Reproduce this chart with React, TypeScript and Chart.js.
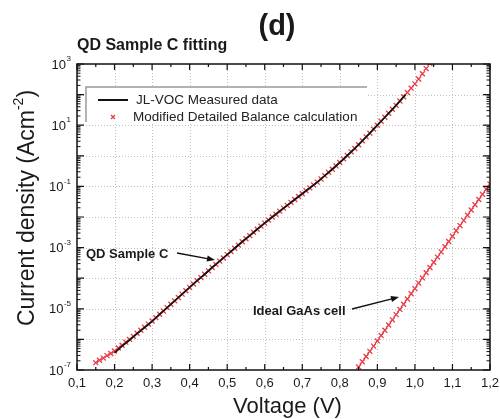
import React, { useEffect, useRef } from "react";
import { Chart, registerables } from "chart.js";

Chart.register(...registerables);

// ---- Data ----
// Modified Detailed Balance calculation for QD Sample C (red crosses): voltage (V) and log10 J (A/cm^2)
const fitVoltage = [
  0.15, 0.16, 0.17, 0.18, 0.19, 0.2, 0.21, 0.22, 0.23, 0.24, 0.25, 0.26, 0.27, 0.28, 0.29,
  0.3, 0.31, 0.32, 0.33, 0.34, 0.35, 0.36, 0.37, 0.38, 0.39, 0.4, 0.41, 0.42, 0.43, 0.44,
  0.45, 0.46, 0.47, 0.48, 0.49, 0.5, 0.51, 0.52, 0.53, 0.54, 0.55, 0.56, 0.57, 0.58, 0.59,
  0.6, 0.61, 0.62, 0.63, 0.64, 0.65, 0.66, 0.67, 0.68, 0.69, 0.7, 0.71, 0.72, 0.73, 0.74,
  0.75, 0.76, 0.77, 0.78, 0.79, 0.8, 0.81, 0.82, 0.83, 0.84, 0.85, 0.86, 0.87, 0.88, 0.89,
  0.9, 0.91, 0.92, 0.93, 0.94, 0.95, 0.96, 0.97, 0.98, 0.99, 1.0, 1.01, 1.02, 1.03, 1.04,
];
const fitLogJ = [
  -6.76, -6.68, -6.61, -6.53, -6.46, -6.38, -6.28, -6.19, -6.09, -6.0, -5.9, -5.8, -5.7, -5.6, -5.5,
  -5.4, -5.29, -5.18, -5.07, -4.96, -4.85, -4.74, -4.63, -4.52, -4.41, -4.3, -4.19, -4.08, -3.98, -3.87,
  -3.76, -3.65, -3.55, -3.44, -3.34, -3.23, -3.13, -3.02, -2.92, -2.81, -2.71, -2.61, -2.5, -2.4, -2.3,
  -2.2, -2.1, -2.0, -1.91, -1.81, -1.71, -1.62, -1.52, -1.43, -1.33, -1.24, -1.14, -1.05, -0.95, -0.86,
  -0.76, -0.65, -0.54, -0.44, -0.33, -0.22, -0.1, 0.01, 0.13, 0.24, 0.36, 0.49, 0.62, 0.74, 0.87,
  1.0, 1.13, 1.26, 1.39, 1.52, 1.65, 1.79, 1.93, 2.07, 2.21, 2.35, 2.51, 2.68, 2.85, 3.02,
];

// JL-VOC measured data (black line)
const measuredVoltage = [
  0.2, 0.22, 0.24, 0.26, 0.28, 0.3, 0.32, 0.34, 0.36, 0.38, 0.4, 0.42, 0.44, 0.46, 0.48,
  0.5, 0.52, 0.54, 0.56, 0.58, 0.6, 0.62, 0.64, 0.66, 0.68, 0.7, 0.72, 0.74, 0.76, 0.78,
  0.8, 0.82, 0.84, 0.86, 0.88, 0.9, 0.92, 0.94, 0.96, 0.975,
];
const measuredLogJ = [
  -6.44, -6.22, -6.02, -5.81, -5.61, -5.41, -5.18, -4.96, -4.74, -4.52, -4.3, -4.08, -3.87, -3.65, -3.44,
  -3.23, -3.02, -2.81, -2.61, -2.4, -2.2, -2.0, -1.81, -1.62, -1.43, -1.24, -1.05, -0.86, -0.65, -0.44,
  -0.22, 0.01, 0.24, 0.49, 0.74, 1.0, 1.26, 1.52, 1.79, 2.0,
];

// Ideal GaAs cell (red crosses)
const idealVoltage = [
  0.85, 0.86, 0.87, 0.88, 0.89, 0.9, 0.91, 0.92, 0.93, 0.94, 0.95, 0.96, 0.97, 0.98, 0.99, 1.0, 1.01, 1.02,
  1.03, 1.04, 1.05, 1.06, 1.07, 1.08, 1.09, 1.1, 1.11, 1.12, 1.13, 1.14, 1.15, 1.16, 1.17, 1.18, 1.19, 1.2,
];
const idealLogJ = [
  -6.9, -6.73, -6.56, -6.39, -6.22, -6.05, -5.87, -5.7, -5.53, -5.36, -5.19, -5.02, -4.85, -4.68, -4.51, -4.34, -4.16, -3.99,
  -3.82, -3.65, -3.48, -3.31, -3.14, -2.97, -2.8, -2.63, -2.45, -2.28, -2.11, -1.94, -1.77, -1.6, -1.43, -1.26, -1.09, -0.92,
];

// Axis ticks
const xTickValues = [0.1, 0.2, 0.3, 0.4, 0.5, 0.6, 0.7, 0.8, 0.9, 1.0, 1.1, 1.2];
const xTickLabels = ["0,1", "0,2", "0,3", "0,4", "0,5", "0,6", "0,7", "0,8", "0,9", "1,0", "1,1", "1,2"];
const yLabelExponents = ["3", "1", "-1", "-3", "-5", "-7"];
const yDecades = [-7, -6, -5, -4, -3, -2, -1, 0, 1, 2, 3];

const seriesNames = ["JL-VOC Measured data", "Modified Detailed Balance calculation"];
const titleText = "(d)";
const subtitleText = "QD Sample C fitting";
const xTitle = "Voltage (V)";
const yTitleMain = "Current density (Acm";
const yTitleSup = "-2";
const yTitleEnd = ")";
const annotationQD = "QD Sample C";
const annotationIdeal = "Ideal GaAs cell";

const FONT = '"Liberation Sans", Arial, Helvetica, sans-serif';
const RED = "#ea3a44";
const TEXT = "#1a1a1a";

function toPoints(xs: number[], logs: number[]) {
  return xs.map((v, i) => ({ x: v, y: Math.pow(10, logs[i]) }));
}

function arrow(ctx: CanvasRenderingContext2D, x1: number, y1: number, x2: number, y2: number) {
  const ang = Math.atan2(y2 - y1, x2 - x1);
  const hl = 8;
  const hw = 3;
  ctx.beginPath();
  ctx.moveTo(x1, y1);
  ctx.lineTo(x2 - Math.cos(ang) * hl * 0.8, y2 - Math.sin(ang) * hl * 0.8);
  ctx.stroke();
  ctx.beginPath();
  ctx.moveTo(x2, y2);
  ctx.lineTo(x2 - Math.cos(ang) * hl - Math.sin(ang) * hw, y2 - Math.sin(ang) * hl + Math.cos(ang) * hw);
  ctx.lineTo(x2 - Math.cos(ang) * hl + Math.sin(ang) * hw, y2 - Math.sin(ang) * hl - Math.cos(ang) * hw);
  ctx.closePath();
  ctx.fill();
}

const decorPlugin = {
  id: "decor",
  beforeDatasetsDraw(chart: any) {
    const { ctx, chartArea: a, scales } = chart;
    const x = scales.x;
    const y = scales.y;
    ctx.save();
    ctx.strokeStyle = "#c2c2c2";
    ctx.lineWidth = 1;
    ctx.setLineDash([1, 2]);
    for (const v of xTickValues.slice(1, -1)) {
      const px = Math.round(x.getPixelForValue(v)) + 0.5;
      ctx.beginPath();
      ctx.moveTo(px, a.top);
      ctx.lineTo(px, a.bottom);
      ctx.stroke();
    }
    for (const d of yDecades.slice(1, -1)) {
      const py = Math.round(y.getPixelForValue(Math.pow(10, d))) + 0.5;
      ctx.beginPath();
      ctx.moveTo(a.left, py);
      ctx.lineTo(a.right, py);
      ctx.stroke();
    }
    ctx.restore();
  },
  afterDatasetsDraw(chart: any) {
    const { ctx, chartArea: a } = chart;
    ctx.save();
    // legend box
    const lx = a.left + 9;
    const ly = a.top + 23;
    const lw = 281;
    const lh = 35;
    ctx.fillStyle = "#fff";
    ctx.fillRect(lx, ly, lw, lh);
    ctx.strokeStyle = "#9a9a9a";
    ctx.lineWidth = 1.5;
    ctx.beginPath();
    ctx.moveTo(lx, ly + lh);
    ctx.lineTo(lx, ly);
    ctx.lineTo(lx + lw, ly);
    ctx.stroke();
    // entries
    ctx.strokeStyle = "#111";
    ctx.lineWidth = 2;
    ctx.beginPath();
    ctx.moveTo(lx + 12, ly + 13);
    ctx.lineTo(lx + 42, ly + 13);
    ctx.stroke();
    ctx.strokeStyle = RED;
    ctx.lineWidth = 1.3;
    const mx = lx + 27;
    const my = ly + 30;
    ctx.beginPath();
    ctx.moveTo(mx - 2, my - 2);
    ctx.lineTo(mx + 2, my + 2);
    ctx.moveTo(mx + 2, my - 2);
    ctx.lineTo(mx - 2, my + 2);
    ctx.stroke();
    ctx.fillStyle = "#222";
    ctx.font = `13.5px ${FONT}`;
    ctx.textAlign = "left";
    ctx.textBaseline = "middle";
    ctx.fillText(seriesNames[0], lx + 50, ly + 13);
    ctx.fillText(seriesNames[1], lx + 47, ly + 30);
    ctx.restore();
  },
  afterDraw(chart: any) {
    const { ctx, chartArea: a, scales } = chart;
    const x = scales.x;
    const y = scales.y;
    ctx.save();
    // frame
    ctx.strokeStyle = "#111";
    ctx.lineWidth = 1.5;
    ctx.strokeRect(a.left, a.top, a.right - a.left, a.bottom - a.top);
    // x ticks
    ctx.lineWidth = 1.2;
    for (let i = 0; i < xTickValues.length; i++) {
      const v = xTickValues[i];
      const px = x.getPixelForValue(v);
      ctx.beginPath();
      ctx.moveTo(px, a.bottom);
      ctx.lineTo(px, a.bottom - 6);
      ctx.moveTo(px, a.top);
      ctx.lineTo(px, a.top + 6);
      ctx.stroke();
      if (i < xTickValues.length - 1) {
        const pm = x.getPixelForValue(v + 0.05);
        ctx.beginPath();
        ctx.moveTo(pm, a.bottom);
        ctx.lineTo(pm, a.bottom - 3);
        ctx.moveTo(pm, a.top);
        ctx.lineTo(pm, a.top + 3);
        ctx.stroke();
      }
    }
    // y ticks
    for (const d of yDecades) {
      const py = y.getPixelForValue(Math.pow(10, d));
      ctx.lineWidth = 1.2;
      ctx.beginPath();
      ctx.moveTo(a.left, py);
      ctx.lineTo(a.left + 7, py);
      ctx.moveTo(a.right, py);
      ctx.lineTo(a.right - 7, py);
      ctx.stroke();
      if (d < 3) {
        ctx.lineWidth = 1;
        for (let m = 2; m <= 9; m++) {
          const pm = y.getPixelForValue(m * Math.pow(10, d));
          ctx.beginPath();
          ctx.moveTo(a.left, pm);
          ctx.lineTo(a.left + 3.5, pm);
          ctx.moveTo(a.right, pm);
          ctx.lineTo(a.right - 3.5, pm);
          ctx.stroke();
        }
      }
    }
    // x tick labels
    ctx.fillStyle = TEXT;
    ctx.font = `13px ${FONT}`;
    ctx.textAlign = "center";
    ctx.textBaseline = "middle";
    xTickLabels.forEach((lab, i) => {
      ctx.fillText(lab, x.getPixelForValue(xTickValues[i]), a.bottom + 13);
    });
    // y tick labels 10^n
    yLabelExponents.forEach((e) => {
      const py = y.getPixelForValue(Math.pow(10, Number(e)));
      ctx.font = `8px ${FONT}`;
      const ew = ctx.measureText(e).width;
      const right = a.left - 6;
      ctx.textAlign = "left";
      ctx.textBaseline = "middle";
      ctx.fillText(e, right - ew, py - 5);
      ctx.font = `13px ${FONT}`;
      ctx.textAlign = "right";
      ctx.fillText("10", right - ew - 0.5, py + 1);
    });
    // axis titles
    ctx.font = `22px ${FONT}`;
    ctx.textAlign = "center";
    ctx.textBaseline = "middle";
    ctx.fillText(xTitle, (a.left + a.right) / 2 + 4, a.bottom + 37);
    ctx.save();
    ctx.translate(28, 208);
    ctx.rotate(-Math.PI / 2);
    ctx.font = `23px ${FONT}`;
    const w1 = ctx.measureText(yTitleMain).width;
    const w3 = ctx.measureText(yTitleEnd).width;
    ctx.font = `14px ${FONT}`;
    const w2 = ctx.measureText(yTitleSup).width;
    let sx = -(w1 + w2 + w3) / 2;
    ctx.textAlign = "left";
    ctx.font = `23px ${FONT}`;
    ctx.fillText(yTitleMain, sx, 0);
    sx += w1;
    ctx.font = `14px ${FONT}`;
    ctx.fillText(yTitleSup, sx, -9);
    sx += w2;
    ctx.font = `23px ${FONT}`;
    ctx.fillText(yTitleEnd, sx, 0);
    ctx.restore();
    // titles
    ctx.font = `bold 29px ${FONT}`;
    ctx.textAlign = "center";
    ctx.fillText(titleText, 277, 27);
    ctx.font = `bold 16px ${FONT}`;
    ctx.textAlign = "left";
    ctx.fillText(subtitleText, a.left, 46);
    // annotations
    ctx.font = `bold 13px ${FONT}`;
    ctx.fillText(annotationQD, 86, 254);
    ctx.fillText(annotationIdeal, 253, 311);
    ctx.strokeStyle = "#111";
    ctx.fillStyle = "#111";
    ctx.lineWidth = 1.3;
    arrow(ctx, 177, 253, 215, 260);
    arrow(ctx, 352, 309, 399, 297);
    ctx.restore();
  },
};

export default function App() {
  const ref = useRef<HTMLCanvasElement>(null);
  useEffect(() => {
    document.body.style.margin = "0";
    const canvas = ref.current;
    if (!canvas) return;
    const chart = new Chart(canvas, {
      type: "scatter",
      data: {
        datasets: [
          {
            label: seriesNames[0],
            data: toPoints(measuredVoltage, measuredLogJ),
            showLine: true,
            borderColor: "#141414",
            borderWidth: 1.8,
            pointRadius: 0,
            tension: 0,
          },
          {
            label: seriesNames[1],
            data: toPoints(fitVoltage, fitLogJ),
            showLine: false,
            pointStyle: "crossRot",
            pointRadius: 3.5,
            pointBorderWidth: 1.3,
            pointBorderColor: RED,
            pointBackgroundColor: RED,
          },
          {
            label: "Ideal GaAs cell",
            data: toPoints(idealVoltage, idealLogJ),
            showLine: true,
            borderColor: RED,
            borderWidth: 1,
            pointStyle: "crossRot",
            pointRadius: 3.5,
            pointBorderWidth: 1.3,
            pointBorderColor: RED,
            pointBackgroundColor: RED,
          },
        ],
      },
      options: {
        responsive: false,
        devicePixelRatio: 1,
        animation: false,
        events: [],
        layout: { padding: { left: 77, top: 64, right: 10, bottom: 49 } },
        plugins: { legend: { display: false }, tooltip: { enabled: false }, title: { display: false } },
        scales: {
          x: {
            type: "linear",
            min: 0.1,
            max: 1.2,
            ticks: { display: false, stepSize: 0.1 },
            grid: { display: false, drawTicks: false },
            border: { display: false },
            afterFit: (s: any) => {
              s.height = 0;
            },
          },
          y: {
            type: "logarithmic",
            min: 1e-7,
            max: 1e3,
            ticks: { display: false },
            grid: { display: false, drawTicks: false },
            border: { display: false },
            afterFit: (s: any) => {
              s.width = 0;
            },
          },
        },
      },
      plugins: [decorPlugin],
    } as any);
    return () => chart.destroy();
  }, []);
  return (
    <div style={{ width: 500, height: 419, background: "#fff" }}>
      <canvas ref={ref} width={500} height={419} style={{ display: "block", width: 500, height: 419 }} />
    </div>
  );
}
